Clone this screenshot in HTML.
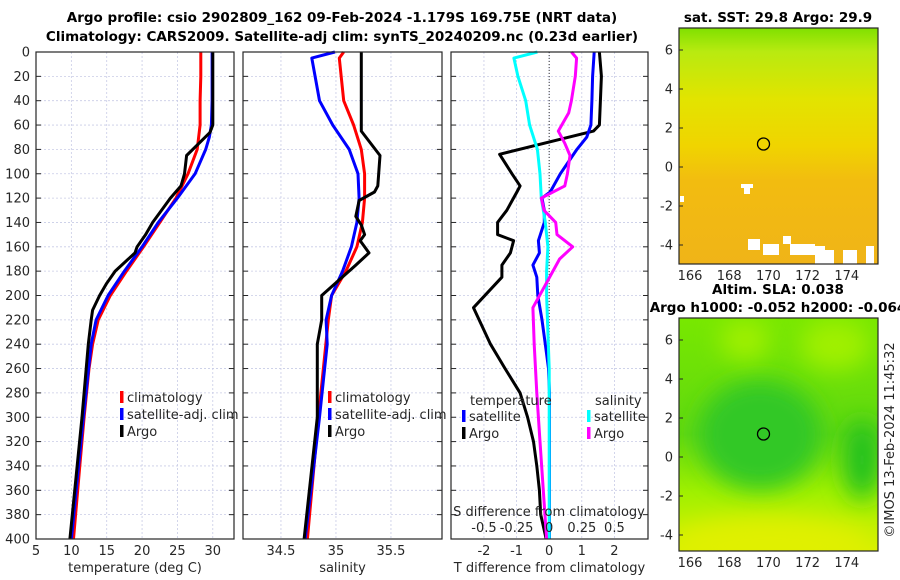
<!DOCTYPE html>
<html><head><meta charset="utf-8">
<style>
html,body{margin:0;padding:0;background:#fff;}
svg{display:block;font-family:"DejaVu Sans","Liberation Sans",sans-serif;}
text{fill:#262626;font-size:13px;}
.tt{font-weight:bold;font-size:13.5px;fill:#000;}
</style></head>
<body>
<svg id="fig" width="900" height="580" viewBox="0 0 900 580">
<defs>
 <linearGradient id="sstg" x1="0" y1="0" x2="0" y2="1">
  <stop offset="0" stop-color="#80e000"/>
  <stop offset="0.1" stop-color="#b8ea10"/>
  <stop offset="0.3" stop-color="#e2e400"/>
  <stop offset="0.5" stop-color="#f0d400"/>
  <stop offset="0.65" stop-color="#f2bc10"/>
  <stop offset="1" stop-color="#f0b418"/>
 </linearGradient>
 <linearGradient id="slag" x1="0" y1="0" x2="0" y2="1">
  <stop offset="0" stop-color="#78e800"/>
  <stop offset="0.5" stop-color="#60d810"/>
  <stop offset="0.75" stop-color="#a0f000"/>
  <stop offset="1" stop-color="#d8f000"/>
 </linearGradient>
 <filter id="blur" x="-100%" y="-100%" width="300%" height="300%"><feGaussianBlur stdDeviation="12"/></filter>
 <clipPath id="clipB"><rect x="679" y="318" width="199" height="233"/></clipPath>
</defs>
<text class="tt" x="342" y="22" text-anchor="middle">Argo profile: csio 2902809_162 09-Feb-2024 -1.179S 169.75E (NRT data)</text>
<text class="tt" x="342" y="41" text-anchor="middle">Climatology: CARS2009. Satellite-adj clim: synTS_20240209.nc (0.23d earlier)</text>
<g id="p1"></g>
<g id="p2"></g>
<g id="p3"></g>
<g id="maps"></g>
<text x="894" y="440" transform="rotate(-90 894 440)" text-anchor="middle" font-size="13">©IMOS 13-Feb-2024 11:45:32</text>
</svg>
<script>
// ---- data ----
const tDepthClim = [0,20,40,60,80,100,120,140,160,180,200,220,240,260,300,340,400];
const tClim =      [28.3,28.3,28.2,28.2,27.8,26.5,24.8,22.5,20.2,17.8,15.5,13.8,13.0,12.5,11.8,11.2,10.3];
const tDepthSat =  [0,20,40,60,70,80,100,120,140,160,180,200,220,240,300,400];
const tSat =       [29.9,29.9,29.9,29.8,29.5,29.0,27.5,25.0,22.3,20.0,17.5,15.2,13.5,12.8,11.7,10.0];
const tDepthArgo = [0,20,40,60,66,85,100,110,120,140,150,160,165,180,190,200,212,220,240,260,300,400];
const tArgo =      [30.0,30.0,30.0,30.0,29.6,26.3,26.0,25.5,24.0,21.5,20.5,19.3,19.0,16.2,15.0,14.0,13.0,12.8,12.4,12.1,11.5,9.8];

const sDepthClim = [0,5,40,60,80,100,120,140,160,180,200,220,300,400];
const sClim =      [35.07,35.03,35.07,35.16,35.23,35.26,35.26,35.24,35.19,35.09,34.96,34.93,34.84,34.74];
const sDepthSat =  [0,5,20,40,60,80,100,120,140,160,180,200,220,240,300,400];
const sSat =       [34.99,34.78,34.81,34.85,34.97,35.12,35.20,35.21,35.19,35.14,35.06,34.96,34.91,34.92,34.85,34.72];
const sDepthArgo = [0,65,85,110,115,122,135,142,150,155,165,175,200,220,240,300,400];
const sArgo =      [35.23,35.23,35.40,35.38,35.35,35.21,35.18,35.23,35.26,35.22,35.30,35.18,34.87,34.87,34.83,34.83,34.71];

const dDepthTArgo = [0,20,60,65,84,100,110,115,130,140,150,155,165,175,185,210,240,260,280,300,320,340,360,380,400];
const dTArgo =      [1.54,1.6,1.54,1.36,-1.52,-1.14,-0.89,-0.99,-1.3,-1.58,-1.58,-1.09,-1.19,-1.45,-1.45,-2.32,-1.8,-1.35,-0.89,-0.66,-0.48,-0.38,-0.3,-0.26,-0.09];
const dDepthTSat =  [0,20,40,60,70,80,100,115,120,130,140,155,165,175,185,200,220,240,260,280,400];
const dTSat =       [1.38,1.33,1.31,1.28,1.15,0.85,0.34,0.03,-0.22,-0.15,-0.15,-0.33,-0.3,-0.5,-0.38,-0.35,-0.22,-0.12,-0.02,0.01,0.01];
const dDepthSSat =  [0,5,20,40,60,80,100,120,140,160,180,200,260,400];
const dSSat =       [-0.09,-0.27,-0.24,-0.18,-0.15,-0.09,-0.07,-0.06,-0.03,-0.01,-0.02,-0.02,0,0];
const dDepthSArgo = [0,5,20,40,50,65,75,85,100,110,120,130,140,150,160,170,210,240,280,320,360,400];
const dSArgo =      [0.17,0.21,0.20,0.17,0.15,0.07,0.12,0.16,0.14,0.12,-0.06,-0.04,0.05,0.06,0.18,0.08,-0.125,-0.115,-0.095,-0.07,-0.045,-0.02];

const depthTicks = [0,20,40,60,80,100,120,140,160,180,200,220,240,260,280,300,320,340,360,380,400];
const tTicks = [5,10,15,20,25,30];
const sTicks = [34.5,35,35.5];
const dTTicks = [-2,-1,0,1,2];
const dSTicks = [-0.5,-0.25,0,0.25,0.5];
const lonTicks = [166,168,170,172,174];
const latTicks = [6,4,2,0,-2,-4];

// ---- helpers ----
const NS = "http://www.w3.org/2000/svg";
function mk(parent, tag, attrs, txt){
  const e = document.createElementNS(NS, tag);
  for (const k in attrs) e.setAttribute(k, attrs[k]);
  if (txt !== undefined) e.textContent = txt;
  parent.appendChild(e);
  return e;
}
const Y0 = 52, Y1 = 539;
const yD = d => Y0 + d * (Y1 - Y0) / 400;

function panel(g, x0, x1, xmin, xmax, xticks, xlabel, showY, name){
  const sx = v => x0 + (v - xmin) * (x1 - x0) / (xmax - xmin);
  depthTicks.forEach(d => {
    const l = mk(g, 'line', {x1:x0, x2:x1, y1:yD(d), y2:yD(d), stroke:'#c8cbe6', 'stroke-width':0.8, 'stroke-dasharray':'2,2'});
    
    
    const t1 = mk(g, 'line', {x1:x0, x2:x0+5, y1:yD(d), y2:yD(d), stroke:'#262626'});
    const t2 = mk(g, 'line', {x1:x1-5, x2:x1, y1:yD(d), y2:yD(d), stroke:'#262626'});
    
    
    
    
    if (showY){
      const t = mk(g, 'text', {x:x0-6, y:yD(d)+4.5, 'text-anchor':'end'}, String(d));
      
      
    }
  });
  xticks.forEach(v => {
    const l = mk(g, 'line', {x1:sx(v), x2:sx(v), y1:Y0, y2:Y1, stroke:'#c8cbe6', 'stroke-width':0.8, 'stroke-dasharray':'2,2'});
    
    
    if (xlabel !== null){
      const t = mk(g, 'text', {x:sx(v), y:555, 'text-anchor':'middle'}, String(v));
      
      
    }
  });
  if (xlabel){
    const t = mk(g, 'text', {x:(x0+x1)/2, y:572, 'text-anchor':'middle'}, xlabel);
    
    
  }
  return sx;
}
function frame(g, x0, x1){
  const r = mk(g, 'rect', {x:x0, y:Y0, width:x1-x0, height:Y1-Y0, fill:'none', stroke:'#262626', 'stroke-width':1.2});
  
  
}
function series(g, sx, depths, vals, color, name){
  const pts = vals.map((v,i) => sx(v).toFixed(1) + ',' + yD(depths[i]).toFixed(1)).join(' ');
  const p = mk(g, 'polyline', {points:pts, fill:'none', stroke:color, 'stroke-width':3, 'stroke-linejoin':'round'});
  
  
}
function legendRow(g, x, y, color, label){
  const m = mk(g, 'rect', {x:x, y:y-10, width:3.5, height:12, fill:color});
  
  
  const t = mk(g, 'text', {x:x+7, y:y+1}, label);
  
  
}

// ---- panel 1 ----
const g1 = document.getElementById('p1');
const sx1 = panel(g1, 36, 234, 5, 33, tTicks, 'temperature (deg C)', true, 'temperature');
series(g1, sx1, tDepthClim, tClim, '#ff0000', 'temperature-climatology-line');
series(g1, sx1, tDepthSat, tSat, '#0000ff', 'temperature-satellite-line');
series(g1, sx1, tDepthArgo, tArgo, '#000000', 'temperature-argo-line');
frame(g1, 36, 234);
legendRow(g1, 120, 401, '#ff0000', 'climatology');
legendRow(g1, 120, 418, '#0000ff', 'satellite-adj. clim');
legendRow(g1, 120, 435, '#000000', 'Argo');

// ---- panel 2 ----
const g2 = document.getElementById('p2');
const sx2 = panel(g2, 243, 442, 34.155, 35.964, sTicks, 'salinity', false, 'salinity');
series(g2, sx2, sDepthClim, sClim, '#ff0000', 'salinity-climatology-line');
series(g2, sx2, sDepthSat, sSat, '#0000ff', 'salinity-satellite-line');
series(g2, sx2, sDepthArgo, sArgo, '#000000', 'salinity-argo-line');
frame(g2, 243, 442);
legendRow(g2, 328, 401, '#ff0000', 'climatology');
legendRow(g2, 328, 418, '#0000ff', 'satellite-adj. clim');
legendRow(g2, 328, 435, '#000000', 'Argo');

// ---- panel 3 ----
const g3 = document.getElementById('p3');
const sx3 = panel(g3, 451, 648, -3.01, 3.03, dTTicks, 'T difference from climatology', false, 'difference');
const sx3s = v => sx3(v * 4);
const zl = mk(g3, 'line', {x1:sx3(0), x2:sx3(0), y1:Y0, y2:Y1, stroke:'#333', 'stroke-width':1, 'stroke-dasharray':'1,2'});


series(g3, sx3, dDepthTArgo, dTArgo, '#000000', 'temp-diff-argo-line');
series(g3, sx3, dDepthTSat, dTSat, '#0000ff', 'temp-diff-satellite-line');
series(g3, sx3s, dDepthSSat, dSSat, '#00ffff', 'sal-diff-satellite-line');
series(g3, sx3s, dDepthSArgo, dSArgo, '#ff00ff', 'sal-diff-argo-line');
frame(g3, 451, 648);
dSTicks.forEach(v => {
  const t = mk(g3, 'text', {x:sx3s(v), y:532, 'text-anchor':'middle'}, String(v));
  
  
});
const st = mk(g3, 'text', {x:549, y:516, 'text-anchor':'middle'}, 'S difference from climatology');


const lt1 = mk(g3, 'text', {x:470, y:405}, 'temperature');


const lt2 = mk(g3, 'text', {x:595, y:405}, 'salinity');


legendRow(g3, 462, 420, '#0000ff', 'satellite');
legendRow(g3, 462, 437, '#000000', 'Argo');
legendRow(g3, 587, 420, '#00ffff', 'satellite');
legendRow(g3, 587, 437, '#ff00ff', 'Argo');

// ---- maps ----
const gm = document.getElementById('maps');
const MX0 = 679, MX1 = 878;
const lonX = lon => 690 + (lon - 166) * 19.6;
function mapAxes(yTop, yBot, y0lat, title1, title2, name){
  const latY = lat => y0lat - lat * 19.5;
  latTicks.forEach(v => {
    const t = mk(gm, 'text', {x:MX0-6, y:latY(v)+4.5, 'text-anchor':'end'}, String(v));
    
    
    const a = mk(gm, 'line', {x1:MX0, x2:MX0+4, y1:latY(v), y2:latY(v), stroke:'#262626'});
    
    
  });
  lonTicks.forEach(v => {
    const t = mk(gm, 'text', {x:lonX(v), y:yBot+16, 'text-anchor':'middle'}, String(v));
    
    
  });
  const r = mk(gm, 'rect', {x:MX0, y:yTop, width:MX1-MX0, height:yBot-yTop, fill:'none', stroke:'#262626', 'stroke-width':1.2});
  
  
  const c = mk(gm, 'circle', {cx:lonX(169.75), cy:latY(1.18), r:6, fill:'none', stroke:'#000', 'stroke-width':1.3});
  
  
  const t1 = mk(gm, 'text', {x:778, y:title2 ? yTop-24 : yTop-6, 'text-anchor':'middle', class:'tt'}, title1);
  
  
  if (title2){
    const t2 = mk(gm, 'text', {x:778, y:yTop-6, 'text-anchor':'middle', class:'tt'}, title2);
    
    
  }
}
// SST map fill
const sst = mk(gm, 'rect', {x:MX0, y:28, width:MX1-MX0, height:236, fill:'url(#sstg)'});


[[680,196,4,6],[744,186,6,8],[741,184,12,4],[763,244,16,11],[748,239,12,11],[783,236,8,8],[790,244,25,11],[815,246,10,18],[824,250,10,14],[843,250,14,14],[866,246,8,18]].forEach(r => {
  const w = mk(gm, 'rect', {x:r[0], y:r[1], width:r[2], height:Math.min(r[3], 264-r[1]), fill:'#fff'});
  
  
});
mapAxes(28, 264, 167, 'sat. SST: 29.8  Argo: 29.9', null, 'sst-map');
// SLA map fill
const gs = mk(gm, 'g', {'clip-path':'url(#clipB)'});


mk(gs, 'rect', {x:MX0, y:318, width:MX1-MX0, height:233, fill:'url(#slag)'});
mk(gs, 'ellipse', {cx:760, cy:435, rx:62, ry:55, fill:'#30c828', filter:'url(#blur)'});
mk(gs, 'ellipse', {cx:862, cy:460, rx:18, ry:40, fill:'#20c020', filter:'url(#blur)'});
mk(gs, 'ellipse', {cx:835, cy:345, rx:35, ry:25, fill:'#a0f000', filter:'url(#blur)'});
mk(gs, 'ellipse', {cx:745, cy:340, rx:25, ry:20, fill:'#a0f000', filter:'url(#blur)'});
mk(gs, 'ellipse', {cx:770, cy:545, rx:100, ry:28, fill:'#e0f000', filter:'url(#blur)'});
mapAxes(318, 551, 457, 'Altim. SLA: 0.038', 'Argo h1000: -0.052 h2000: -0.064', 'sla-map');
</script>
</body></html>
